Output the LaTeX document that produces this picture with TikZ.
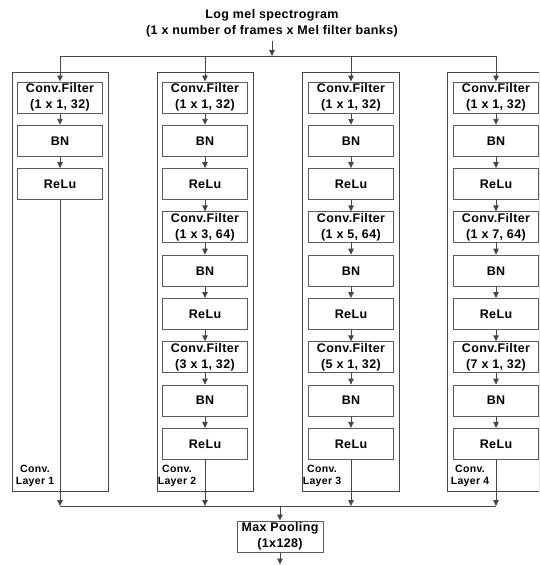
\documentclass[tikz,border=0pt]{standalone}
\usepackage{fontspec}
\setmainfont{Liberation Sans}[LetterSpace=3]
\usetikzlibrary{arrows.meta}
\definecolor{ln}{RGB}{70,70,70}
\definecolor{bx}{RGB}{90,90,90}
\begin{document}
\begin{tikzpicture}[x=1pt,y=-1pt,
  every node/.style={font=\bfseries\fontsize{12.5}{16}\selectfont, text=black},
  blk/.style={draw=bx, line width=1pt, minimum width=85pt, minimum height=31pt, inner sep=0pt, align=center, fill=white},
  outer/.style={draw=ln, line width=0.9pt},
  conn/.style={draw=ln, line width=0.9pt},
  arr/.style={conn, -{Triangle[length=6pt,width=5.5pt]}},
  lbl/.style={font=\bfseries\fontsize{10.5}{12}\selectfont, align=center, inner sep=0pt}
]
\useasboundingbox (0,0) rectangle (539,565);
\clip (0,0) rectangle (539,565);

% title
\node[align=center, inner sep=0pt] (title) at (272,23.5) {Log mel spectrogram\\(1 x number of frames x Mel filter banks)};

% outer layer frames
\draw[outer] (12,72) rectangle (108,491);
\draw[outer] (157,72) rectangle (253,491);
\draw[outer] (302,72) rectangle (399,491);
\draw[outer] (447,72) rectangle (539.5,491);

% top distribution
\coordinate (tm) at (272,56);
\coordinate (t1) at (60,56);
\coordinate (t2) at (205,56);
\coordinate (t3) at (351,56);
\coordinate (t4) at (496,56);

% layer 1
\node[blk] (L1-1) at (60,97.5) {Conv.Filter\\(1 x 1, 32)};
\node[blk] (L1-2) at (60,140.8) {BN};
\node[blk] (L1-3) at (60,184.1) {ReLu};

% layers 2-4
\foreach \l/\c/\a/\b in {2/205/3/3, 3/351/5/5, 4/496/7/7}{
  \node[blk] (L\l-1) at (\c,97.5) {Conv.Filter\\(1 x 1, 32)};
  \node[blk] (L\l-2) at (\c,140.8) {BN};
  \node[blk] (L\l-3) at (\c,184.1) {ReLu};
  \node[blk] (L\l-4) at (\c,227.4) {Conv.Filter\\(1 x \a, 64)};
  \node[blk] (L\l-5) at (\c,270.7) {BN};
  \node[blk] (L\l-6) at (\c,314) {ReLu};
  \node[blk] (L\l-7) at (\c,357.3) {Conv.Filter\\(\b{} x 1, 32)};
  \node[blk] (L\l-8) at (\c,400.6) {BN};
  \node[blk] (L\l-9) at (\c,443.9) {ReLu};
}

% layer labels
\node[lbl] (lab1) at (35,476) {Conv.\\Layer 1};
\node[lbl] (lab2) at (177,476) {Conv.\\Layer 2};
\node[lbl] (lab3) at (322,476) {Conv.\\Layer 3};
\node[lbl] (lab4) at (470,476) {Conv.\\Layer 4};

% bottom collection
\coordinate (b1) at (60,506);
\coordinate (b2) at (205,506);
\coordinate (b3) at (351,506);
\coordinate (b4) at (496,506);
\coordinate (bm) at (280,506);

\node[blk, minimum width=86pt] (mp) at (280,536.5) {Max Pooling\\(1x128)};
\coordinate (out) at (280,564.5);

% connectors
\draw[arr] (title.south) ++(0,3) -- (tm);
\draw[conn] (t1) -- (t4);
\foreach \l in {1,2,3,4}{ \draw[arr] (t\l) -- (L\l-1.north); }
\draw[arr] (L1-1) -- (L1-2);
\draw[arr] (L1-2) -- (L1-3);
\foreach \l in {2,3,4}{
  \foreach \i [evaluate=\i as \j using int(\i+1)] in {1,...,8}{
    \draw[arr] (L\l-\i) -- (L\l-\j);
  }
}
\draw[arr] (L1-3.south) -- (b1);
\foreach \l in {2,3,4}{ \draw[arr] (L\l-9.south) -- (b\l); }
\draw[conn] (b1) -- (b4);
\draw[arr] (bm) -- (mp.north);
\draw[arr] (mp.south) -- (out);
\end{tikzpicture}
\end{document}
